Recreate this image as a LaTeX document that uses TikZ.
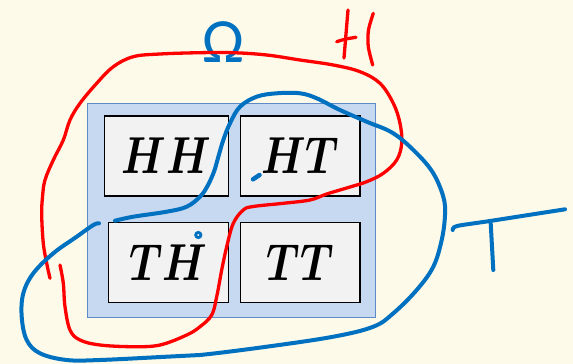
\documentclass[tikz,border=0pt]{standalone}
\usepackage{fontspec}
\newfontfamily\omegafont{Carlito}
\definecolor{bgcream}{RGB}{253,250,233}
\definecolor{spacefill}{RGB}{198,217,240}
\definecolor{spaceedge}{RGB}{92,139,200}
\definecolor{cellfill}{RGB}{242,242,242}
\definecolor{inkblue}{RGB}{0,112,192}
\definecolor{inkred}{RGB}{255,0,0}
\tikzset{
  space/.style={draw=spaceedge, line width=1.2pt, fill=spacefill, minimum width=288.5pt, minimum height=214.5pt, inner sep=0pt},
  cell/.style={draw=black, line width=1.3pt, fill=cellfill, minimum width=120pt, minimum height=80pt, inner sep=0pt, font=\fontsize{10}{12}\selectfont\boldmath},
  redink/.style={draw=inkred, line width=3.3pt, line cap=round, line join=round},
  blueink/.style={draw=inkblue, line width=4pt, line cap=round, line join=round},
}
\newcommand{\cellmath}[1]{\scalebox{4.2}[5.2]{$#1$}}
\begin{document}
\begin{tikzpicture}[x=1pt,y=-1pt]
\useasboundingbox (0,0) rectangle (573,364);
\fill[bgcream] (0,0) rectangle (573,364);
\node[space] (sample) at (231.6,210.6) {};
\node[cell, minimum width=124pt] (hh) at (166.3,156) {\cellmath{HH}};
\node[cell, minimum width=119.3pt] (ht) at (300.3,156) {\cellmath{HT}};
\node[cell] (th) at (168.3,262.2) {\cellmath{TH}};
\node[cell, minimum width=119.3pt] (tt) at (300.3,262.2) {\cellmath{TT}};
\node[anchor=base, inner sep=0pt, text=inkblue, font=\omegafont\fontsize{63}{70}\selectfont] (omega) at (223,62.3) {Ω};
% red loop (event H)
\draw[redink] plot[smooth, tension=0.6] coordinates {
 (50,278.3) (46.7,263.3) (43.3,243.3) (41.7,215) (42.5,197) (45,180) (53.3,160) (63.3,140) (70,120) (80,103.3) (96.7,83.3) (113.3,66.7) (133.3,56.7) (160,54) (200,52.7) (233.3,52.7) (266.7,55) (300,60) (333.3,65) (360,71.7) (380,83.3) (393.3,103.3) (400,123.3) (401.7,143.3) (396.7,160) (383.3,173.3) (366.7,181.7) (350,187) (326.7,194) (310,200) (283.3,203.3) (253.3,206.5) (243.3,210) (233.3,223.3) (226.7,246.7) (221.7,270) (216.7,296.7) (211.7,315) (200,326.7) (186.7,335) (160,345) (133.3,346.7) (100,345) (80,340) (70,330) (65,306.7) (63.3,283.3) (60,265)};
% red H label
\draw[redink] (348,10) -- (344,58);
\draw[redink] (336.7,41.7) .. controls (345,39) .. (356,37.3);
\draw[redink] plot[smooth] coordinates {(373.3,13.3) (368.5,30) (368.3,46.7) (372.7,65)};
% blue loop (event T)
\draw[blueink] plot[smooth, tension=0.6] coordinates {
 (115,220.7) (133.3,216.7) (166.7,211.7) (186.7,206.7) (200,196.7) (207.5,186) (214,171.7) (218,158) (223.3,140) (230,123.3) (240,106.7) (256.7,96.7) (276.7,93.3) (300,93.3) (316.7,98.3) (340,110) (366.7,121.7) (393.3,133.3) (416.7,153.3) (433.3,173.3) (443.3,196.7) (445,215) (441.7,240) (433.3,266.7) (416.7,290) (393.3,313.3) (373.3,326.7) (333.3,336.7) (266.7,346.7) (200,355) (166.7,356.7) (100,360) (66.7,360) (40,353.3) (26.7,340) (21.7,316.7) (23.3,293.3) (33.3,273.3) (53.3,253.3) (76.7,236.7) (93.3,225) (99,223.3)};
% blue T label
\draw[blueink] plot[smooth] coordinates {(452.7,230) (457,226) (490,221) (565,209.3)};
\draw[blueink] (490.7,223.3) -- (493.3,270);
% ink marks
\draw[blueink, line width=4.5pt] (253,179.3) -- (259.5,175);
\draw[inkblue, line width=2.8pt] (198.3,235) circle (2.6pt);
\end{tikzpicture}
\end{document}
